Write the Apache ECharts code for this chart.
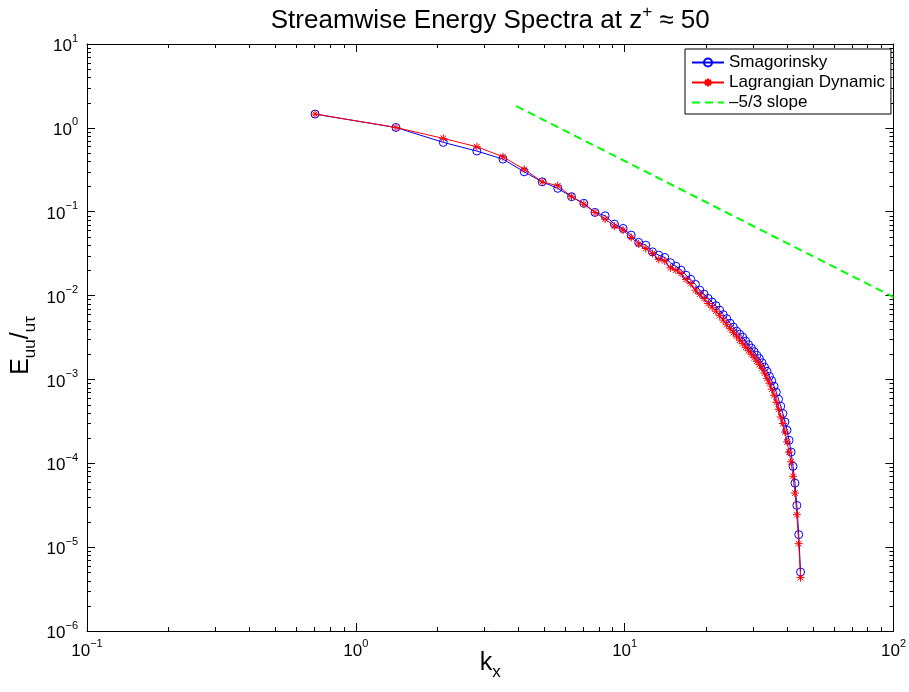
<!DOCTYPE html>
<html>
<head>
<meta charset="utf-8">
<script src="https://cdn.jsdelivr.net/npm/echarts@6/dist/echarts.min.js"></script>
<style>
  html, body { margin: 0; padding: 0; background: #fff; }
  #chart { width: 909px; height: 692px; }
</style>
</head>
<body>
<div id="chart"></div>
<script>
// wavenumbers k_x
var kx = [0.705, 1.41, 2.115, 2.82, 3.525, 4.23, 4.935, 5.64, 6.345, 7.05,
  7.755, 8.46, 9.165, 9.87, 10.575, 11.28, 11.985, 12.69, 13.395, 14.1,
  14.805, 15.51, 16.215, 16.92, 17.625, 18.33, 19.035, 19.74, 20.445, 21.15,
  21.855, 22.56, 23.265, 23.97, 24.675, 25.38, 26.085, 26.79, 27.495, 28.2,
  28.905, 29.61, 30.315, 31.02, 31.725, 32.43, 33.135, 33.84, 34.545, 35.25,
  35.955, 36.66, 37.365, 38.07, 38.775, 39.48, 40.185, 40.89, 41.595, 42.3,
  43.005, 43.71, 44.415, 45.12];

var smagorinsky = [1.46, 1.01, 0.671, 0.529, 0.424, 0.299, 0.227, 0.190, 0.151, 0.126,
  0.0981, 0.0894, 0.0711, 0.0632, 0.0526, 0.0430, 0.0399, 0.0332, 0.0303, 0.0285,
  0.0246, 0.0224, 0.0201, 0.0175, 0.0156, 0.0136, 0.0116, 0.0104, 0.00924, 0.00834,
  0.00758, 0.00670, 0.00592, 0.00530, 0.00468, 0.00420, 0.00376, 0.00346, 0.00319, 0.00286,
  0.00259, 0.00236, 0.00214, 0.00194, 0.00177, 0.00158, 0.00140, 0.00125, 0.00109, 0.000965,
  0.000830, 0.000704, 0.000580, 0.000479, 0.000392, 0.000311, 0.000248, 0.000188, 0.000136, 9.2e-5,
  5.8e-5, 3.15e-5, 1.41e-5, 5.05e-6];

var lagrangian = [1.46, 1.01, 0.749, 0.595, 0.452, 0.320, 0.227, 0.204, 0.151, 0.123,
  0.0981, 0.0816, 0.0673, 0.0603, 0.0493, 0.0411, 0.0365, 0.0318, 0.0270, 0.0259,
  0.0214, 0.0201, 0.0184, 0.0156, 0.0139, 0.0116, 0.0104, 0.00924, 0.00805, 0.00727,
  0.00651, 0.00576, 0.00509, 0.00449, 0.00403, 0.00361, 0.00328, 0.00294, 0.00267, 0.00242,
  0.00220, 0.00200, 0.00182, 0.00165, 0.00150, 0.00136, 0.00119, 0.00103, 0.000901, 0.000764,
  0.000648, 0.000534, 0.000441, 0.000357, 0.000298, 0.000236, 0.000180, 0.000136, 0.000104, 7.0e-5,
  4.42e-5, 2.44e-5, 1.10e-5, 4.33e-6];

// -5/3 reference line end points
var slopeK = [3.95, 100];
var slopeE = [1.82, 0.0096];

// minor tick multipliers and decades
var minorMult = [2, 3, 4, 5, 6, 7, 8, 9];
var xDecades = [0.1, 1, 10];
var yDecades = [1e-6, 1e-5, 1e-4, 1e-3, 1e-2, 1e-1, 1];

var FONT = "'Liberation Sans', Arial, Helvetica, sans-serif";

function pairs(xs, ys) {
  return xs.map(function (x, i) { return [x, ys[i]]; });
}

function powLabel(v) {
  var e = Math.round(Math.log10(v));
  return '{b|10}{s|' + (e < 0 ? '\u2212' + (-e) : e) + '}';
}

var labelRich = {
  b: { fontSize: 17, fontFamily: FONT, color: '#000', lineHeight: 22, verticalAlign: 'bottom' },
  s: { fontSize: 11, fontFamily: FONT, color: '#000', lineHeight: 8, verticalAlign: 'top' }
};

var axisLine = { show: true, onZero: false, lineStyle: { color: '#000', width: 1 } };
var majorTick = { show: true, inside: true, length: 8, lineStyle: { color: '#000', width: 1 } };

var myChart = echarts.init(document.getElementById('chart'));

var option = {
  animation: false,
  backgroundColor: '#fff',
  grid: { left: 87, right: 14, top: 44, bottom: 61, containLabel: false },
  legend: {
    orient: 'vertical',
    left: 685,
    top: 49,
    padding: [5, 6, 3, 6],
    itemGap: 3,
    itemWidth: 32,
    itemHeight: 10,
    borderColor: '#000',
    borderWidth: 1,
    backgroundColor: '#fff',
    textStyle: { fontSize: 17, fontFamily: FONT, color: '#000' },
    data: [
      'Smagorinsky',
      'Lagrangian Dynamic',
      { name: '\u20135/3 slope', itemStyle: { opacity: 0 } }
    ]
  },
  xAxis: [
    {
      type: 'log', logBase: 10, min: 0.1, max: 100, interval: 1, position: 'bottom',
      axisLine: axisLine, axisTick: majorTick, splitLine: { show: false },
      axisLabel: { margin: 7, formatter: powLabel, rich: labelRich }
    },
    {
      type: 'log', logBase: 10, min: 0.1, max: 100, interval: 1, position: 'top',
      axisLine: axisLine, axisTick: majorTick, splitLine: { show: false },
      axisLabel: { show: false }
    }
  ],
  yAxis: [
    {
      type: 'log', logBase: 10, min: 1e-6, max: 10, interval: 1, position: 'left',
      axisLine: axisLine, axisTick: majorTick, splitLine: { show: false },
      axisLabel: { margin: 9, formatter: powLabel, rich: labelRich }
    },
    {
      type: 'log', logBase: 10, min: 1e-6, max: 10, interval: 1, position: 'right',
      axisLine: axisLine, axisTick: majorTick, splitLine: { show: false },
      axisLabel: { show: false }
    }
  ],
  series: [
    {
      name: 'Smagorinsky',
      type: 'line',
      data: pairs(kx, smagorinsky),
      symbol: 'circle',
      symbolSize: 8,
      showAllSymbol: true,
      itemStyle: { color: 'rgba(0,0,0,0)', borderColor: '#0000ff', borderWidth: 1 },
      lineStyle: { color: '#0000ff', width: 1 },
      z: 3
    },
    {
      name: 'Lagrangian Dynamic',
      type: 'line',
      data: pairs(kx, lagrangian),
      symbol: 'path://M5,0L5,10M0,5L10,5M1.5,1.5L8.5,8.5M1.5,8.5L8.5,1.5',
      symbolSize: 8,
      showAllSymbol: true,
      itemStyle: { color: '#ff0000', borderColor: '#ff0000', borderWidth: 1 },
      lineStyle: { color: '#ff0000', width: 1 },
      z: 4
    },
    {
      name: '\u20135/3 slope',
      type: 'line',
      data: pairs(slopeK, slopeE),
      symbol: 'none',
      itemStyle: { color: '#00ff00' },
      lineStyle: { color: '#00ff00', width: 2, type: [8, 5] },
      z: 2
    }
  ]
};

myChart.setOption(option);

// minor ticks on all four sides, placed through the axes' own scales
var xl = myChart.convertToPixel({ xAxisIndex: 0 }, 0.1);
var xr = myChart.convertToPixel({ xAxisIndex: 0 }, 100);
var yb = myChart.convertToPixel({ yAxisIndex: 0 }, 1e-6);
var yt = myChart.convertToPixel({ yAxisIndex: 0 }, 10);
var tickStyle = { stroke: '#000', lineWidth: 1 };
var graphics = [];
xDecades.forEach(function (d) {
  minorMult.forEach(function (m) {
    var px = Math.round(myChart.convertToPixel({ xAxisIndex: 0 }, d * m)) + 0.5;
    graphics.push({ type: 'line', silent: true, shape: { x1: px, y1: yb, x2: px, y2: yb - 4 }, style: tickStyle });
    graphics.push({ type: 'line', silent: true, shape: { x1: px, y1: yt, x2: px, y2: yt + 4 }, style: tickStyle });
  });
});
yDecades.forEach(function (d) {
  minorMult.forEach(function (m) {
    var py = Math.round(myChart.convertToPixel({ yAxisIndex: 0 }, d * m)) + 0.5;
    graphics.push({ type: 'line', silent: true, shape: { x1: xl, y1: py, x2: xl + 4, y2: py }, style: tickStyle });
    graphics.push({ type: 'line', silent: true, shape: { x1: xr, y1: py, x2: xr - 4, y2: py }, style: tickStyle });
  });
});

var midX = (xl + xr) / 2;
var midY = (yb + yt) / 2;

// title and axis names
graphics.push({
  type: 'text', x: midX, y: 19, silent: true,
  style: {
    text: '{a|Streamwise Energy Spectra at z}{s|+}{a| \u2248 50}',
    align: 'center', verticalAlign: 'middle',
    rich: {
      a: { fontSize: 26, fontFamily: FONT, color: '#000', lineHeight: 30, verticalAlign: 'bottom' },
      s: { fontSize: 17, fontFamily: FONT, color: '#000', lineHeight: 10, verticalAlign: 'top' }
    }
  }
});
graphics.push({
  type: 'text', x: midX, y: 666, silent: true,
  style: {
    text: '{a|k}{b|x}',
    align: 'center', verticalAlign: 'middle',
    rich: {
      a: { fontSize: 25, fontFamily: FONT, color: '#000', lineHeight: 30, verticalAlign: 'top' },
      b: { fontSize: 17, fontFamily: FONT, color: '#000', lineHeight: 16, verticalAlign: 'bottom' }
    }
  }
});
graphics.push({
  type: 'text', x: 24, y: midY + 8, rotation: Math.PI / 2, silent: true,
  style: {
    text: '{a|E}{b|uu}{a|/}{b|u\u03c4}',
    align: 'center', verticalAlign: 'middle',
    rich: {
      a: { fontSize: 25, fontFamily: FONT, color: '#000', lineHeight: 30, verticalAlign: 'top' },
      b: { fontSize: 17, fontFamily: FONT, color: '#000', lineHeight: 16, verticalAlign: 'bottom' }
    }
  }
});

myChart.setOption({ graphic: graphics });
</script>
</body>
</html>
